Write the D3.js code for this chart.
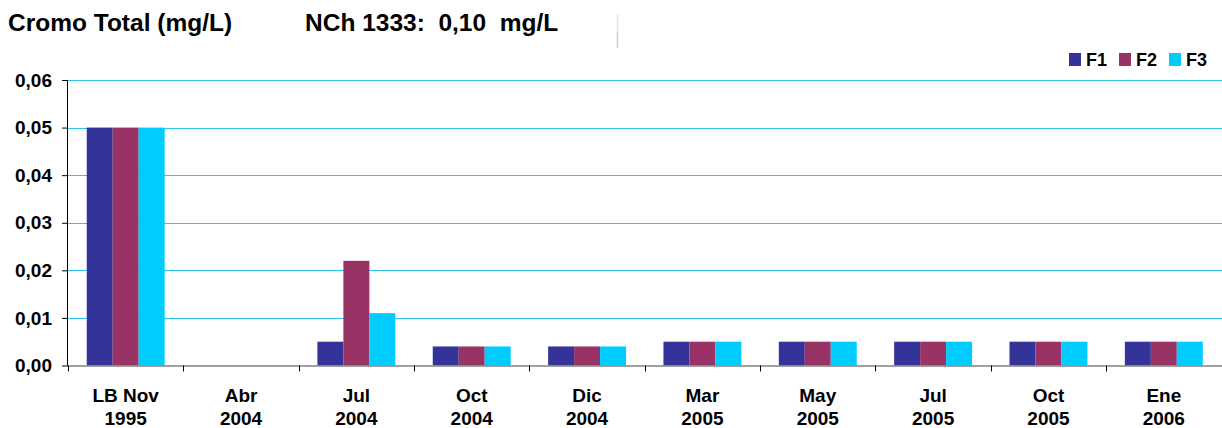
<!DOCTYPE html>
<html>
<head>
<meta charset="utf-8">
<script src="https://cdn.jsdelivr.net/npm/d3@7/dist/d3.min.js"></script>
<style>
  html, body { margin: 0; padding: 0; background: #fff; }
  svg { display: block; font-family: "Liberation Sans", Arial, sans-serif; font-weight: bold; }
</style>
</head>
<body>
<svg id="chart" width="1222" height="428"></svg>
<script>
// Sampling campaigns (two-line labels)
const categories = [
  ["LB Nov", "1995"], ["Abr", "2004"], ["Jul", "2004"], ["Oct", "2004"], ["Dic", "2004"],
  ["Mar", "2005"], ["May", "2005"], ["Jul", "2005"], ["Oct", "2005"], ["Ene", "2006"]
];
const seriesNames = ["F1", "F2", "F3"];
const f1 = [0.05, null, 0.005, 0.004, 0.004, 0.005, 0.005, 0.005, 0.005, 0.005];
const f2 = [0.05, null, 0.022, 0.004, 0.004, 0.005, 0.005, 0.005, 0.005, 0.005];
const f3 = [0.05, null, 0.011, 0.004, 0.004, 0.005, 0.005, 0.005, 0.005, 0.005];
const yTicks = [0, 0.01, 0.02, 0.03, 0.04, 0.05, 0.06];
const colors = ["#333399", "#993366", "#00CCFF"];

const svg = d3.select("#chart");
const plotL = 68, plotR = 1221.5, plotT = 80, plotB = 365.5;

const x = d3.scaleBand().domain(d3.range(categories.length)).range([plotL, plotR]).padding(0);
const xs = d3.scaleBand().domain(seriesNames).range([0, x.bandwidth()]).paddingInner(0).paddingOuter(0.72);
const y = d3.scaleLinear().domain([0, 0.06]).range([plotB, plotT]);

const fmt = d => d3.format(".2f")(d).replace(".", ",");

// Titles
svg.append("text").attr("x", 8).attr("y", 31).attr("font-size", 24.5).attr("fill", "#000")
  .text("Cromo Total (mg/L)");
svg.append("text").attr("x", 305).attr("y", 31).attr("font-size", 24.5).attr("fill", "#000")
  .attr("xml:space", "preserve").style("white-space", "pre")
  .text("NCh 1333:  0,10  mg/L");

// Thin separator
svg.append("line").attr("x1", 617.5).attr("x2", 617.5).attr("y1", 15).attr("y2", 32)
  .attr("stroke", "#d6ead6").attr("stroke-width", 1.5);
svg.append("line").attr("x1", 617.5).attr("x2", 617.5).attr("y1", 32).attr("y2", 48)
  .attr("stroke", "#b8dab8").attr("stroke-width", 1.5);

// Gridlines
svg.append("g").selectAll("line").data(yTicks.filter(d => d > 0)).join("line")
  .attr("x1", plotL).attr("x2", 1222)
  .attr("y1", d => Math.round(y(d)) + 0.5).attr("y2", d => Math.round(y(d)) + 0.5)
  .attr("stroke", "#2fc4ec").attr("stroke-width", 1.2);

// Bars
const series = [f1, f2, f3];
const barG = svg.append("g");
series.forEach((vals, si) => {
  barG.selectAll(null).data(vals.map((v, i) => ({ v, i })).filter(d => d.v != null && d.v > 0)).join("rect")
    .attr("x", d => x(d.i) + xs(seriesNames[si]))
    .attr("width", xs.bandwidth())
    .attr("y", d => y(d.v))
    .attr("height", d => y(0) - y(d.v))
    .attr("fill", colors[si]);
});

// Y axis
const yAxis = svg.append("g").attr("transform", `translate(${plotL},0)`)
  .call(d3.axisLeft(y).tickValues(yTicks).tickFormat(fmt).tickSize(6).tickPadding(10));
yAxis.select(".domain").attr("stroke", "#000").attr("d", `M-0.5,${plotT}V${plotB}`);
yAxis.selectAll(".tick line").attr("stroke", "#000");
yAxis.selectAll("text").attr("font-size", 19).attr("fill", "#000")
  .attr("font-family", "Liberation Sans, Arial, sans-serif").attr("font-weight", "bold");

// X axis line with category boundary ticks
svg.append("line").attr("x1", plotL).attr("x2", 1222).attr("y1", plotB + 0.5).attr("y2", plotB + 0.5)
  .attr("stroke", "#808080").attr("stroke-width", 1.5);
svg.append("g").selectAll("line").data(d3.range(categories.length + 1)).join("line")
  .attr("x1", i => Math.round(plotL + i * x.step()) + 0.5)
  .attr("x2", i => Math.round(plotL + i * x.step()) + 0.5)
  .attr("y1", plotB).attr("y2", plotB + 6)
  .attr("stroke", "#000");

// Category labels
const lab = svg.append("g").selectAll("text").data(categories).join("text")
  .attr("text-anchor", "middle").attr("font-size", 19).attr("fill", "#000");
lab.append("tspan").attr("x", (d, i) => x(i) + x.bandwidth() / 2).attr("y", 402).text(d => d[0]);
lab.append("tspan").attr("x", (d, i) => x(i) + x.bandwidth() / 2).attr("y", 425).text(d => d[1]);

// Legend
const legX = [1069, 1119, 1169];
const leg = svg.append("g").selectAll("g").data(seriesNames).join("g")
  .attr("transform", (d, i) => `translate(${legX[i]},53)`);
leg.append("rect").attr("width", 12).attr("height", 13).attr("fill", (d, i) => colors[i]);
leg.append("text").attr("x", 17).attr("y", 13).attr("font-size", 18).attr("fill", "#000").text(d => d);
</script>
</body>
</html>
